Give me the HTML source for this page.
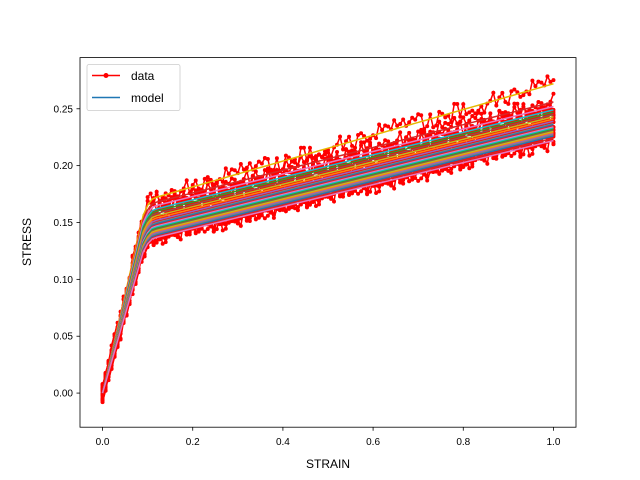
<!DOCTYPE html>
<html><head><meta charset="utf-8"><style>
body{margin:0;background:#fff;}
svg{display:block;font-family:"Liberation Sans","DejaVu Sans",sans-serif;}
</style></head><body>
<svg id="chart" width="640" height="480" viewBox="0 0 640 480">
<rect width="640" height="480" fill="#fff"/>
<defs><clipPath id="clip"><rect x="80" y="57.6" width="496" height="369.6"/></clipPath></defs>
<g id="plot" clip-path="url(#clip)"></g>
<rect x="80" y="57.6" width="496" height="369.6" fill="none" stroke="#000" stroke-width="0.8"/>
<g id="ticks"></g>
<text x="328" y="468" font-size="12" text-anchor="middle">STRAIN</text>
<text x="31" y="242" font-size="12" text-anchor="middle" transform="rotate(-90 31 242)">STRESS</text>
<g>
<rect x="87" y="64.5" width="93" height="46" rx="2" fill="#fff" fill-opacity="0.8" stroke="#ccc" stroke-width="0.8"/>
<g>
<line x1="92" y1="75.5" x2="120" y2="75.5" stroke="#ff0000" stroke-width="1.5"/>
<circle cx="106" cy="75.5" r="2.5" fill="#ff0000"/>
<text x="131" y="80" font-size="12">data</text></g>
<g>
<line x1="92" y1="97.5" x2="120" y2="97.5" stroke="#1f77b4" stroke-width="1.5"/>
<text x="131" y="102" font-size="12">model</text></g>
</g>
</svg>
<script>
const yieldStress=[0.170,0.166,0.163,0.160,0.158,0.156,0.154,0.152,0.150,0.148,0.147,0.146,0.145,0.144,0.143,0.142,0.141,0.140,0.139,0.138,0.137,0.136,0.135];
const endStress=[0.272,0.256,0.252,0.249,0.247,0.245,0.243,0.241,0.239,0.237,0.236,0.235,0.234,0.233,0.232,0.231,0.230,0.229,0.228,0.227,0.226,0.224,0.222];
const noise=[0.3,-0.8,0.5,0.9,-0.4,-1.0,0.2,0.7,-0.6,0.1,0.8,-0.3,-0.9,0.6,0.4,-0.2,1.0,-0.7,0.0,0.5,-0.5,0.9,-1.0,0.3,0.6,-0.4,0.2,-0.8,0.7,-0.1,0.4,-0.6,1.0,-0.3,0.5,-0.9,0.1,0.8,-0.5,0.3,-0.2,0.6,-0.7,0.9,0.0,-0.4,0.7,-1.0,0.2,0.5,-0.6];
const xTicks=[0.0,0.2,0.4,0.6,0.8,1.0];
const yTicks=[0.00,0.05,0.10,0.15,0.20,0.25];
const colors=["#1f77b4","#ff7f0e","#2ca02c","#d62728","#9467bd","#8c564b","#e377c2","#7f7f7f","#bcbd22","#17becf"];
const X=v=>80+(v+0.05)/1.1*496;
const Y=v=>427.2-(v+0.030)/0.325*369.6;
const NS="http://www.w3.org/2000/svg";
const plot=document.getElementById('plot'),ticks=document.getElementById('ticks');
function mk(tag,at,parent){const e=document.createElementNS(NS,tag);for(const k in at)e.setAttribute(k,at[k]);parent.appendChild(e);return e;}
function model(s,ys,es){const ey=0.1;if(s<=0.09)return ys*s/ey*1.02;
 if(s<=0.12){const a=ys*0.09/ey*1.02,b=ys+(es-ys)*(0.02/0.9);const t=(s-0.09)/0.03;return a+(b-a)*(1-(1-t)*(1-t));}
 return ys+(es-ys)*(s-0.1)/0.9;}
const N=151;
yieldStress.forEach((ys,i)=>{const es=endStress[i];let pts=[];
 for(let k=0;k<N;k++){const s=k/(N-1);const n=noise[(k*7+i*13)%noise.length]*0.008;pts.push([X(s),Y(model(s,ys,es)+n)]);}
 const pl=mk('polyline',{points:pts.map(p=>p.join(',')).join(' '),fill:'none',stroke:'#ff0000','stroke-width':1.5},plot);
 
 
 pts.forEach(p=>{const c=mk('circle',{cx:p[0],cy:p[1],r:2,fill:'#ff0000'},plot);
  
  });
});
yieldStress.forEach((ys,i)=>{const es=endStress[i];let pts=[];
 for(let k=0;k<=100;k++){const s=k/100;pts.push(X(s)+','+Y(model(s,ys,es)));}
 const col=i===0?'#e6b800':colors[(i*3)%10];
 const pl=mk('polyline',{points:pts.join(' '),fill:'none',stroke:col,'stroke-width':1.5},plot);
 
 
});
xTicks.forEach(v=>{const x=X(v);mk('line',{x1:x,y1:427.2,x2:x,y2:430.7,stroke:'#000','stroke-width':0.8},ticks);
 const t=mk('text',{x:x,y:445,'font-size':10,'text-anchor':'middle'},ticks);t.textContent=v.toFixed(1);
 
 });
yTicks.forEach(v=>{const y=Y(v);mk('line',{x1:76.5,y1:y,x2:80,y2:y,stroke:'#000','stroke-width':0.8},ticks);
 const t=mk('text',{x:73,y:y+3.5,'font-size':10,'text-anchor':'end'},ticks);t.textContent=v.toFixed(2);
 
 });
</script>
</body></html>
